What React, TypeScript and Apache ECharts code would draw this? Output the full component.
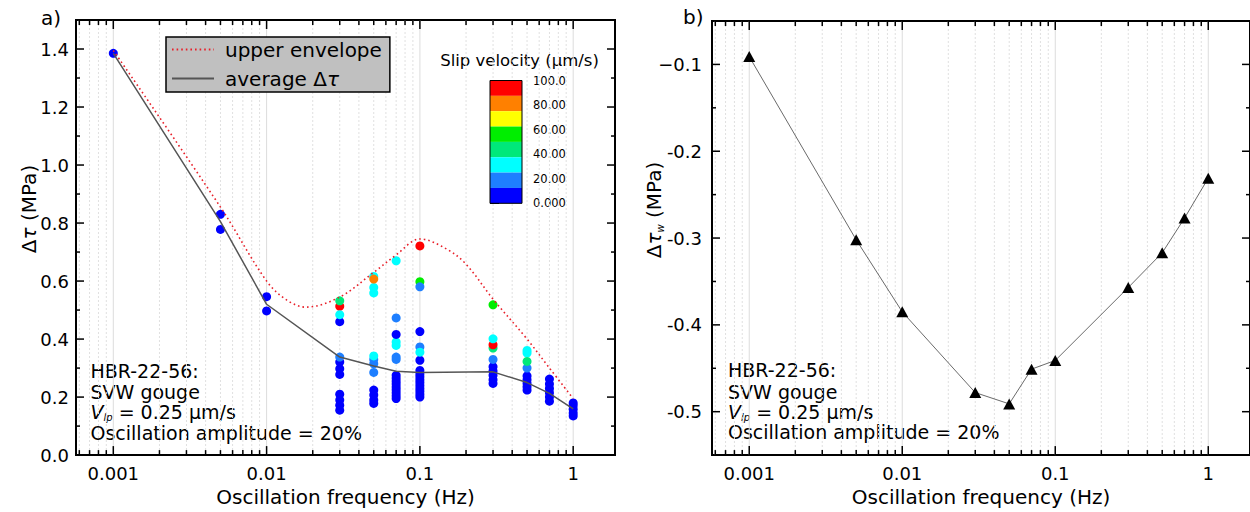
import { useEffect, useRef } from 'react';
import * as echarts from 'echarts';

const FONT = 'DejaVu Sans';

// ---------- shared frequency axis ----------
const freqTickValues = [0.001, 0.01, 0.1, 1];
const freqTickLabels = ['0.001', '0.01', '0.1', '1'];
const freqMinorValues = [
  0.0006, 0.0007, 0.0008, 0.0009,
  0.002, 0.003, 0.004, 0.005, 0.006, 0.007, 0.008, 0.009,
  0.02, 0.03, 0.04, 0.05, 0.06, 0.07, 0.08, 0.09,
  0.2, 0.3, 0.4, 0.5, 0.6, 0.7, 0.8, 0.9,
];

// ---------- panel a ----------
const yATickValues = [0, 0.2, 0.4, 0.6, 0.8, 1.0, 1.2, 1.4];
const yATickLabels = ['0.0', '0.2', '0.4', '0.6', '0.8', '1.0', '1.2', '1.4'];
const yAMinorValues = [0.1, 0.3, 0.5, 0.7, 0.9, 1.1, 1.3];

// [frequency (Hz), Δτ (MPa), slip velocity (µm/s)]
const slipPoints: [number, number, number][] = [
  [0.001, 1.385, 6],
  [0.005, 0.83, 6], [0.005, 0.778, 6],
  [0.01, 0.546, 6], [0.01, 0.497, 6],
  [0.03, 0.155, 6], [0.03, 0.172, 6], [0.03, 0.19, 6], [0.03, 0.21, 6],
  [0.03, 0.278, 6], [0.03, 0.298, 6], [0.03, 0.321, 6], [0.03, 0.338, 19],
  [0.03, 0.46, 6], [0.03, 0.513, 94], [0.03, 0.532, 44], [0.03, 0.484, 31],
  [0.05, 0.178, 6], [0.05, 0.19, 6], [0.05, 0.207, 6], [0.05, 0.224, 6],
  [0.05, 0.285, 19], [0.05, 0.315, 19], [0.05, 0.33, 19], [0.05, 0.342, 31],
  [0.05, 0.559, 31], [0.05, 0.578, 31], [0.05, 0.616, 31], [0.05, 0.607, 81],
  [0.07, 0.195, 6], [0.07, 0.205, 6], [0.07, 0.215, 6], [0.07, 0.225, 6], [0.07, 0.235, 6],
  [0.07, 0.245, 6], [0.07, 0.255, 6], [0.07, 0.265, 6], [0.07, 0.275, 6],
  [0.07, 0.33, 19], [0.07, 0.338, 19], [0.07, 0.378, 31], [0.07, 0.39, 31],
  [0.07, 0.416, 6], [0.07, 0.473, 19], [0.07, 0.67, 31],
  [0.1, 0.2, 6], [0.1, 0.21, 6], [0.1, 0.22, 6], [0.1, 0.23, 6], [0.1, 0.24, 6],
  [0.1, 0.25, 6], [0.1, 0.26, 6], [0.1, 0.27, 6], [0.1, 0.28, 6], [0.1, 0.292, 6],
  [0.1, 0.327, 6], [0.1, 0.373, 19], [0.1, 0.355, 31], [0.1, 0.426, 6],
  [0.1, 0.598, 56], [0.1, 0.58, 19], [0.1, 0.721, 94],
  [0.3, 0.247, 6], [0.3, 0.26, 6], [0.3, 0.275, 6], [0.3, 0.29, 6], [0.3, 0.305, 6],
  [0.3, 0.33, 19], [0.3, 0.369, 44], [0.3, 0.38, 94], [0.3, 0.401, 31], [0.3, 0.518, 56],
  [0.5, 0.224, 6], [0.5, 0.236, 6], [0.5, 0.248, 6], [0.5, 0.26, 6], [0.5, 0.273, 6],
  [0.5, 0.3, 19], [0.5, 0.352, 31], [0.5, 0.361, 31], [0.5, 0.323, 44],
  [0.7, 0.186, 6], [0.7, 0.2, 6], [0.7, 0.215, 6], [0.7, 0.23, 6], [0.7, 0.245, 6], [0.7, 0.262, 6],
  [1, 0.135, 6], [1, 0.145, 6], [1, 0.158, 6], [1, 0.17, 6], [1, 0.18, 6],
];

const envFreq = [0.001, 0.005, 0.01, 0.0135, 0.018, 0.03, 0.05, 0.07, 0.1, 0.15, 0.2, 0.3, 0.5, 0.7, 1];
const envDtau = [1.395, 0.855, 0.6, 0.535, 0.51, 0.545, 0.63, 0.69, 0.745, 0.71, 0.658, 0.538, 0.4, 0.3, 0.195];

const avgFreq = [0.001, 0.005, 0.01, 0.03, 0.05, 0.07, 0.1, 0.3, 0.5, 0.7, 1];
const avgDtau = [1.385, 0.805, 0.52, 0.338, 0.307, 0.289, 0.285, 0.287, 0.25, 0.213, 0.159];

// slip-velocity colour scale
const velBounds = [0, 12.5, 25, 37.5, 50, 62.5, 75, 87.5, 100];
const velColors = ['#0000ff', '#1e7fff', '#00ffff', '#00e87a', '#00ee00', '#ffff00', '#ff8000', '#ff0000'];
const velTickValues = [0, 20, 40, 60, 80, 100];
const velTickLabels = ['0.000', '20.00', '40.00', '60.00', '80.00', '100.0'];

// ---------- panel b ----------
const bFreq = [0.001, 0.005, 0.01, 0.03, 0.05, 0.07, 0.1, 0.3, 0.5, 0.7, 1];
const bDtauW = [-0.091, -0.302, -0.385, -0.478, -0.491, -0.451, -0.441, -0.357, -0.317, -0.277, -0.231];
const yBTickValues = [-0.5, -0.4, -0.3, -0.2, -0.1];
const yBTickLabels = ['-0.5', '-0.4', '-0.3', '-0.2', '\u22120.1'];
const yBMinorValues = [-0.45, -0.35, -0.25, -0.15];

const annotationLines = ['HBR-22-56:', 'SVW gouge', '{v|V}{s|lp}{n| = 0.25 \u00b5m/s}', 'Oscillation amplitude = 20%'];

const X_MIN = 0.000571;
const X_MAX = 1.874;

const lookup = (values: number[], labels: string[]) => (v: number) => {
  for (let i = 0; i < values.length; i++) {
    if (Math.abs(values[i] - v) < 1e-6 * Math.max(1, Math.abs(values[i])) ||
      (values[i] > 0 && v > 0 && Math.abs(Math.log10(v) - Math.log10(values[i])) < 1e-6)) {
      return labels[i];
    }
  }
  return '';
};

const renderDecor = (params: any, api: any) => {
  const cs = params.coordSys;
  const kind = api.value(2);
  const p = api.coord([api.value(0), api.value(1)]);
  const left = cs.x;
  const right = cs.x + cs.width;
  const top = cs.y;
  const bottom = cs.y + cs.height;
  const tick = { stroke: '#000', lineWidth: 1.5 };
  if (kind <= 1) {
    const len = kind === 0 ? 9 : 5;
    const x = p[0];
    return {
      type: 'group',
      children: [
        {
          type: 'line',
          shape: { x1: x, y1: top, x2: x, y2: bottom },
          style: kind === 0
            ? { stroke: '#dcdcdc', lineWidth: 1 }
            : { stroke: '#e0e0e0', lineWidth: 1, lineDash: [2, 2] },
        },
        { type: 'line', shape: { x1: x, y1: bottom, x2: x, y2: bottom - len }, style: tick },
        { type: 'line', shape: { x1: x, y1: top, x2: x, y2: top + len }, style: tick },
      ],
    };
  }
  const len = kind === 2 ? 8 : 4;
  const y = p[1];
  return {
    type: 'group',
    children: [
      { type: 'line', shape: { x1: left, y1: y, x2: left + len, y2: y }, style: tick },
      { type: 'line', shape: { x1: right, y1: y, x2: right - len, y2: y }, style: tick },
    ],
  };
};

const decorData = (xMid: number, yMid: number, yMajor: number[], yMinor: number[]) => [
  ...freqTickValues.map((f) => [f, yMid, 0]),
  ...freqMinorValues.map((f) => [f, yMid, 1]),
  ...yMajor.map((v) => [xMid, v, 2]),
  ...yMinor.map((v) => [xMid, v, 3]),
];

const txt = (x: number, y: number, text: string, extra: any = {}) => ({
  type: 'text',
  x,
  y,
  silent: true,
  style: {
    text,
    fontSize: 19,
    fontFamily: FONT,
    fill: '#000',
    align: 'left',
    verticalAlign: 'middle',
    ...extra,
  },
});

const annoRich = {
  v: { fontSize: 19, fontFamily: FONT, fontStyle: 'italic', fill: '#000', lineHeight: 22 },
  s: { fontSize: 10, fontFamily: FONT, fontStyle: 'italic', fill: '#000', lineHeight: 10, verticalAlign: 'bottom' },
  n: { fontSize: 19, fontFamily: FONT, fill: '#000', lineHeight: 22 },
};

const annotation = (x: number, ys: number[]) =>
  annotationLines.map((line, i) => txt(x, ys[i], line, i === 2 ? { rich: annoRich } : {}));

const titleRich = {
  t: { fontSize: 20, fontFamily: FONT, fontStyle: 'italic', fill: '#000', lineHeight: 22 },
  w: { fontSize: 10, fontFamily: FONT, fontStyle: 'italic', fill: '#000', lineHeight: 10, verticalAlign: 'bottom' },
};

const xAxisCommon = (gridIndex: number) => ({
  type: 'log',
  logBase: 10,
  gridIndex,
  min: X_MIN,
  max: X_MAX,
  name: 'Oscillation frequency (Hz)',
  nameLocation: 'middle',
  nameGap: 30,
  nameTextStyle: { fontSize: 20, fontFamily: FONT, color: '#000' },
  axisLine: { show: false },
  axisTick: { show: false },
  splitLine: { show: false },
  minorTick: { show: false },
  axisLabel: {
    color: '#000',
    fontSize: 18,
    fontFamily: FONT,
    margin: 9,
    showMinLabel: false,
    showMaxLabel: false,
    formatter: lookup(freqTickValues, freqTickLabels),
  },
});

const option: any = {
  animation: false,
  backgroundColor: '#fff',
  textStyle: { fontFamily: FONT },
  grid: [
    { left: 76, top: 20, width: 539, height: 437, show: true, borderColor: '#000', borderWidth: 2, backgroundColor: 'transparent' },
    { left: 712, top: 21, width: 540, height: 436, show: true, borderColor: '#000', borderWidth: 2, backgroundColor: 'transparent' },
    { left: 490, top: 80.5, width: 32, height: 122.8, show: true, z: 10, borderColor: '#000', borderWidth: 1, backgroundColor: 'transparent' },
  ],
  xAxis: [
    xAxisCommon(0),
    xAxisCommon(1),
    { type: 'value', gridIndex: 2, min: 0, max: 1, show: false },
  ],
  yAxis: [
    {
      type: 'value', gridIndex: 0, min: 0, max: 1.5, interval: 0.1,
      axisLine: { show: false }, axisTick: { show: false }, splitLine: { show: false },
      axisLabel: { color: '#000', fontSize: 18, fontFamily: FONT, margin: 7, formatter: lookup(yATickValues, yATickLabels) },
    },
    {
      type: 'value', gridIndex: 1, min: -0.55, max: -0.05, interval: 0.05,
      axisLine: { show: false }, axisTick: { show: false }, splitLine: { show: false },
      axisLabel: { color: '#000', fontSize: 18, fontFamily: FONT, margin: 10, formatter: lookup(yBTickValues, yBTickLabels) },
    },
    {
      type: 'value', gridIndex: 2, position: 'right', min: 0, max: 100, interval: 20,
      axisLine: { show: false }, splitLine: { show: false },
      axisTick: { show: true, length: 9, lineStyle: { color: '#000', width: 1 } },
      axisLabel: { color: '#000', fontSize: 11.5, fontFamily: FONT, margin: 11, formatter: lookup(velTickValues, velTickLabels) },
    },
  ],
  legend: {
    data: ['upper envelope', 'average \u0394\u03c4'],
    orient: 'vertical',
    left: 166,
    top: 37,
    padding: [1, 8, 2, 5],
    itemGap: 6,
    itemWidth: 42,
    itemHeight: 14,
    backgroundColor: '#c0c0c0',
    borderColor: '#000',
    borderWidth: 1.5,
    selectedMode: false,
    itemStyle: { color: 'transparent', opacity: 0, borderWidth: 0 },
    formatter: (name: string) => (name === 'average \u0394\u03c4' ? 'average \u0394{it|\u03c4}' : name),
    textStyle: {
      fontSize: 20,
      fontFamily: FONT,
      color: '#000',
      lineHeight: 23,
      padding: [0, 0, 0, 6],
      rich: { it: { fontSize: 20, fontFamily: FONT, fontStyle: 'italic', color: '#000', lineHeight: 23 } },
    },
  },
  visualMap: {
    type: 'piecewise',
    seriesIndex: 0,
    dimension: 2,
    orient: 'vertical',
    left: 490,
    top: 80.5,
    padding: 0,
    itemWidth: 32,
    itemHeight: 122.8 / 8,
    itemGap: 0,
    itemSymbol: 'rect',
    showLabel: false,
    selectedMode: false,
    pieces: velColors.map((c, i) => ({ min: velBounds[i], max: velBounds[i + 1], color: c })),
  },
  graphic: [
    txt(41, 18, 'a)', { fontSize: 20 }),
    txt(683, 17, 'b)', { fontSize: 20 }),
    {
      type: 'text', x: 29, y: 209, rotation: Math.PI / 2, silent: true,
      style: { text: '\u0394{t|\u03c4} (MPa)', rich: titleRich, fontSize: 20, fontFamily: FONT, fill: '#000', align: 'center', verticalAlign: 'middle', lineHeight: 22 },
    },
    {
      type: 'text', x: 654, y: 210, rotation: Math.PI / 2, silent: true,
      style: { text: '\u0394{t|\u03c4}{w|w} (MPa)', rich: titleRich, fontSize: 20, fontFamily: FONT, fill: '#000', align: 'center', verticalAlign: 'middle', lineHeight: 22 },
    },
    txt(519.5, 60, 'Slip velocity (\u00b5m/s)', { fontSize: 16.5, align: 'center' }),
    ...annotation(90.5, [370.5, 391.5, 411.7, 432.5]),
    ...annotation(728, [370, 391.5, 411.7, 431.7]),
  ],
  series: [
    {
      name: 'slip velocity',
      type: 'scatter',
      xAxisIndex: 0,
      yAxisIndex: 0,
      symbol: 'circle',
      symbolSize: 9,
      z: 3,
      itemStyle: { opacity: 1 },
      data: slipPoints,
    },
    {
      name: 'upper envelope',
      type: 'line',
      xAxisIndex: 0,
      yAxisIndex: 0,
      smooth: 0.35,
      symbol: 'none',
      z: 4,
      lineStyle: { color: '#e8202a', width: 1.6, type: [1.6, 3] },
      itemStyle: { color: '#e8202a' },
      data: envFreq.map((f, i) => [f, envDtau[i]]),
    },
    {
      name: 'average \u0394\u03c4',
      type: 'line',
      xAxisIndex: 0,
      yAxisIndex: 0,
      symbol: 'none',
      z: 4,
      lineStyle: { color: '#555', width: 1.5 },
      itemStyle: { color: '#555' },
      data: avgFreq.map((f, i) => [f, avgDtau[i]]),
    },
    {
      type: 'custom',
      xAxisIndex: 0,
      yAxisIndex: 0,
      silent: true,
      z: 1,
      renderItem: renderDecor,
      data: decorData(0.03, 0.7, yATickValues, yAMinorValues),
    },
    {
      name: '\u0394\u03c4w',
      type: 'line',
      xAxisIndex: 1,
      yAxisIndex: 1,
      symbol: 'triangle',
      symbolSize: [12, 11],
      z: 4,
      lineStyle: { color: '#444', width: 0.8 },
      itemStyle: { color: '#000' },
      data: bFreq.map((f, i) => [f, bDtauW[i]]),
    },
    {
      type: 'custom',
      xAxisIndex: 1,
      yAxisIndex: 1,
      silent: true,
      z: 1,
      renderItem: renderDecor,
      data: decorData(0.03, -0.3, yBTickValues, yBMinorValues),
    },
  ],
};

export default function App() {
  const ref = useRef<HTMLDivElement>(null);
  useEffect(() => {
    if (!ref.current) return;
    const chart = echarts.init(ref.current, null, { renderer: 'svg' });
    chart.setOption(option);
    return () => chart.dispose();
  }, []);
  return (
    <div
      ref={ref}
      style={{ position: 'absolute', left: 0, top: 0, width: 1250, height: 512, background: '#fff' }}
    />
  );
}
